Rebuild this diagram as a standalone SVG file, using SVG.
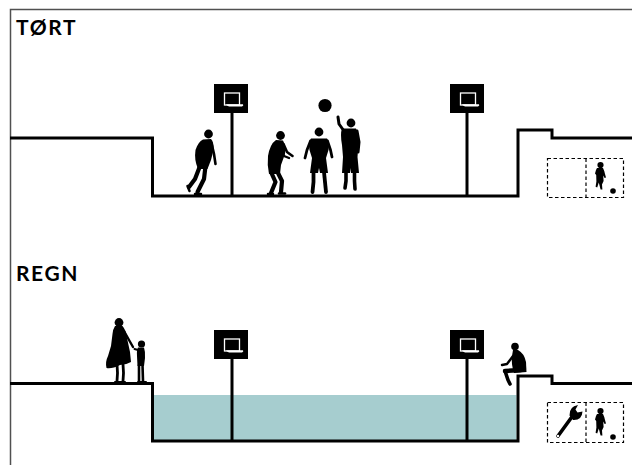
<svg xmlns="http://www.w3.org/2000/svg" width="632" height="465" viewBox="0 0 632 465">
  <style>
    .frame { fill: none; stroke: #505050; stroke-width: 1.5; }
    .ground { fill: none; stroke: #000; stroke-width: 3; stroke-linejoin: miter; }
    .water { fill: #a6cdcf; stroke: none; }
    .pole { stroke: #000; stroke-width: 3; }
    .board { fill: #000; }
    .board-line { fill: none; stroke: #fff; stroke-width: 1.3; }
    .rim { fill: #fff; }
    .box { fill: none; stroke: #000; stroke-width: 1.2; stroke-dasharray: 3.5 2.5; }
    .sil { fill: #000; }
    .limb { fill: none; stroke: #000; stroke-linecap: round; stroke-linejoin: round; }
    .label { font-family: Lato, "Liberation Sans", sans-serif; font-weight: bold; font-size: 21px; letter-spacing: 1.6px; fill: #000; }
  </style>
  <defs>
    <!-- basketball hoop: backboard 34x29 on a pole -->
    <g id="hoop-board">
      <rect class="board" x="0" y="0" width="34" height="29"/>
      <rect class="board-line" x="10.5" y="9" width="15" height="12"/>
      <path class="rim" d="M12,20.2 L29,20.2 Q30,21.6 28,22.4 L15,22.4 Q12.5,21.8 12,20.2 Z"/>
    </g>
    <!-- small running kid with ball -->
    <g id="kid">
      <circle class="sil" cx="0.5" cy="0" r="3.1"/>
      <path class="sil" d="M-3,3 L3,3 Q4.5,6 5,9 L6,12.5 L4.6,13 L3.2,10.5 L3.6,16 L2,19.5 L2.4,24.5 L0.6,24.5 L-0.6,20 L-1.2,17.5 L-2.8,22.4 L-4.4,21.8 L-3.6,16.4 L-3.8,10 L-5,8.4 L-4,5 Z"/>
      <circle class="sil" cx="13" cy="26" r="2.8"/>
    </g>
  </defs>

  <!-- outer frame -->
  <path class="frame" d="M10.5,465 L10.5,9.5 L632,9.5"/>

  <!-- ===== dry state ===== -->
  <g id="dry">
    <text class="label" x="16" y="35">TØRT</text>
    <g id="dry-court">
      <path class="ground" d="M10,138 L152.5,138 L152.5,196 L518,196 L518,130 L552,130 L552,138 L632,138"/>
    </g>
    <g id="dry-hoop-left">
      <line class="pole" x1="232" y1="112" x2="232" y2="196"/>
      <use href="#hoop-board" x="214" y="84"/>
    </g>
    <g id="dry-hoop-right">
      <line class="pole" x1="467" y1="112" x2="467" y2="196"/>
      <use href="#hoop-board" x="450" y="84"/>
    </g>

    <!-- player running in -->
    <g id="player-1">
      <circle class="sil" cx="208.5" cy="134" r="4.4"/>
      <path class="sil" d="M203,139.5 L211,139 Q214,142 213.5,150 L211,160 L207.5,169 L198,169 Q194,160 195.5,150 Q198,142 203,139.5 Z"/>
      <path class="limb" stroke-width="2.6" d="M211.5,143 L214,154 L215.5,164"/>
      <path class="limb" stroke-width="4.2" d="M200,166 L195,179 L189,187"/>
      <path class="limb" stroke-width="4.2" d="M205.5,166 L204,179 L197.5,192"/>
      <path class="limb" stroke-width="2.5" d="M195,194 L201,194"/>
      <path class="limb" stroke-width="2.5" d="M187.5,186 L189.5,191"/>
    </g>

    <!-- player defending, crouched -->
    <g id="player-2">
      <circle class="sil" cx="280.5" cy="135.5" r="4.4"/>
      <path class="sil" d="M276,140 L283,140.5 Q286,146 285,154 L281,165 L280,174 L269,174 Q267,165 268,156 Q270,144 276,140 Z"/>
      <path class="limb" stroke-width="2.6" d="M283.5,144 L287,152 L292.5,156"/>
      <path class="limb" stroke-width="2.4" d="M280,148 L284,156 L289,158"/>
      <path class="limb" stroke-width="4.2" d="M271,172 L275.5,182 L271,193"/>
      <path class="limb" stroke-width="4.2" d="M277,171 L282,181 L281,192"/>
      <path class="limb" stroke-width="2.5" d="M268,194 L273,194"/>
      <path class="limb" stroke-width="2.5" d="M279,193.5 L285,193.5"/>
    </g>

    <!-- player standing under the basket -->
    <g id="player-3">
      <circle class="sil" cx="319" cy="132" r="4.4"/>
      <path class="sil" d="M311,138.5 L327,138.5 Q330,142 328.5,150 L326,158 L328,173 L320,173 L319,168 L318,173 L310,173 L312,158 L309.5,150 Q308,142 311,138.5 Z"/>
      <path class="limb" stroke-width="2.8" d="M310.5,141 L307,150 L305,158"/>
      <path class="limb" stroke-width="2.8" d="M327.5,141 L330.5,150 L332,157"/>
      <path class="limb" stroke-width="3.8" d="M313.5,172 L313.5,182 L312.5,192"/>
      <path class="limb" stroke-width="3.8" d="M324,172 L325,182 L326,192"/>
    </g>

    <!-- player jumping for the ball -->
    <g id="player-4">
      <circle class="sil" cx="351" cy="123" r="4.4"/>
      <path class="sil" d="M342,128.5 L356,128.5 Q359,134 358.5,143 L357.5,157 L359,173 L351,173 L350.5,168 L350,173 L342,173 L343,157 L342,145 Q340,134 342,128.5 Z"/>
      <path class="limb" stroke-width="3" d="M344,131 L339,124 L338,117"/>
      <path class="limb" stroke-width="3" d="M357,131 L359,142 L358,152"/>
      <path class="limb" stroke-width="3.6" d="M346,172 L346,181 L345,188"/>
      <path class="limb" stroke-width="3.6" d="M354.5,172 L354.5,181 L355,189"/>
    </g>
    <circle id="ball" class="sil" cx="325" cy="105.5" r="6.6"/>

    <g id="dry-uses">
      <rect class="box" x="547.5" y="158.5" width="76" height="39"/>
      <line class="box" x1="586" y1="158.5" x2="586" y2="197.5"/>
      <use href="#kid" x="600" y="165"/>
    </g>
  </g>

  <!-- ===== rain state ===== -->
  <g id="rain">
    <text class="label" x="16" y="281">REGN</text>
    <g id="rain-water">
      <rect class="water" x="154" y="395" width="362.5" height="45.5"/>
    </g>
    <g id="rain-court">
      <path class="ground" d="M10,383.5 L152.5,383.5 L152.5,441 L518,441 L518,376 L552,376 L552,383.5 L632,383.5"/>
    </g>
    <g id="rain-hoop-left">
      <line class="pole" x1="232" y1="358" x2="232" y2="441"/>
      <use href="#hoop-board" x="214" y="330"/>
    </g>
    <g id="rain-hoop-right">
      <line class="pole" x1="467" y1="358" x2="467" y2="441"/>
      <use href="#hoop-board" x="450" y="330"/>
    </g>

    <!-- mother and child on the edge -->
    <g id="mother">
      <circle class="sil" cx="119" cy="322.5" r="4.4"/>
      <path class="sil" d="M115,326 L122.5,326 Q126,330 127,338 L130,352 L131,362 Q126,365 120,365 Q112,369 106.5,368 Q105,362 108,356 L111,346 L112.5,334 Q113,329 115,326 Z"/>
      <path class="limb" stroke-width="2.4" d="M124,331 L129,340 L133,347"/>
      <path class="limb" stroke-width="2.8" d="M117,364 L117.5,373 L117,381"/>
      <path class="limb" stroke-width="2.8" d="M123,364 L123.5,373 L123,381"/>
      <path class="limb" stroke-width="2" d="M115,382 L125,382"/>
    </g>
    <g id="child">
      <circle class="sil" cx="141.5" cy="344" r="3.6"/>
      <path class="sil" d="M138,347.5 L144,347.5 Q145.5,352 145,358 L144,366 L137.5,366 L137,356 Q136.5,350 138,347.5 Z"/>
      <path class="limb" stroke-width="2" d="M138,350 L134.5,349"/>
      <path class="limb" stroke-width="2.6" d="M139,365 L139,381"/>
      <path class="limb" stroke-width="2.6" d="M142.5,365 L143,381"/>
      <path class="limb" stroke-width="2" d="M138,382 L146,382"/>
    </g>

    <!-- person sitting on the step -->
    <g id="sitter">
      <circle class="sil" cx="515" cy="346.5" r="3.8"/>
      <path class="sil" d="M513,350 L518,350 Q524,353 526,362 L526.5,372 L514,373 Q511,364 512,356 Z"/>
      <path class="limb" stroke-width="4.4" d="M521,370 L505,371"/>
      <path class="limb" stroke-width="3.6" d="M505,371 L508,380 L510,384"/>
      <path class="limb" stroke-width="2.4" d="M513,356 L507,364 L502,365"/>
    </g>

    <g id="rain-uses">
      <rect class="box" x="547.5" y="402.5" width="76" height="40"/>
      <line class="box" x1="586" y1="402.5" x2="586" y2="442.5"/>
      <!-- wrench -->
      <g id="wrench">
        <line class="limb" stroke-width="3.6" x1="558" y1="436" x2="574" y2="414"/>
        <path class="sil" d="M569.5,415.5 Q569,406.5 578,405 L575.5,409.5 L577.5,412.5 L582.5,411.5 Q582,420.5 573,420 Z"/>
        <circle cx="558" cy="436" r="1.2" fill="#fff"/>
      </g>
      <use href="#kid" x="600" y="411"/>
    </g>
  </g>
</svg>
